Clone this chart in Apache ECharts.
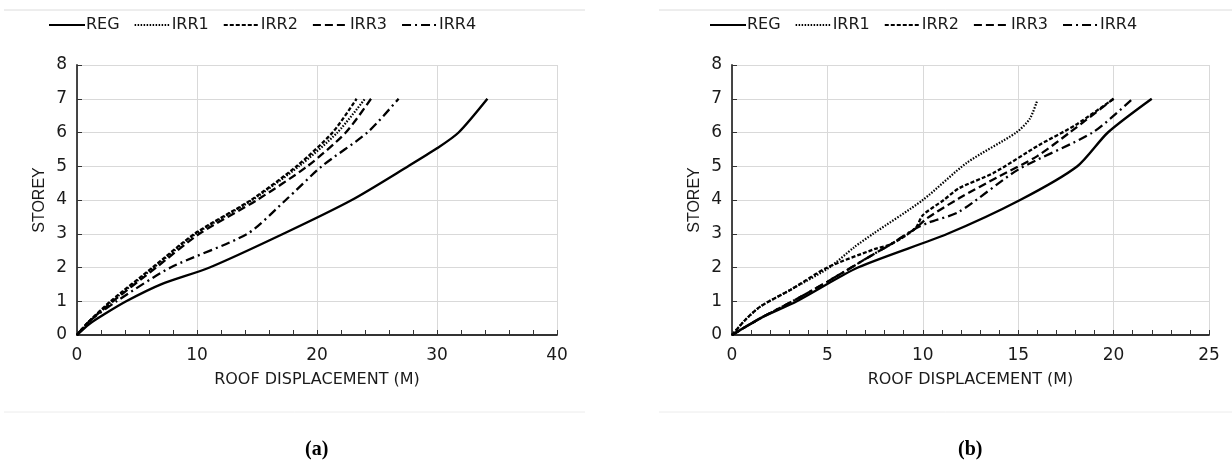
<!DOCTYPE html>
<html><head><meta charset="utf-8">
<script src="https://cdn.jsdelivr.net/npm/echarts@6/dist/echarts.min.js"></script>
<style>html,body{margin:0;padding:0;background:#fff}#c{width:1232px;height:467px}</style>
</head><body><div id="c"></div>
<script>
// ---- data: [roof displacement, storey] ----
const seriesNames = ['REG', 'IRR1', 'IRR2', 'IRR3', 'IRR4'];
const yTicks = [0, 1, 2, 3, 4, 5, 6, 7, 8];
const captions = ['(a)', '(b)'];

// chart (a)
const regA  = [[0,0],[1,0.32],[2.2,0.6],[4.1,1],[7,1.5],[11.05,2],[17.2,3],[22.9,4],[27.6,5],[30,5.53],[31.8,6],[34.2,7]];
const irr1A = [[0,0],[1,0.4],[2.9,1],[6.4,2],[9.9,3],[14.6,4],[18.5,5],[21.7,6],[24,7]];
const irr2A = [[0,0],[1,0.4],[2.8,1],[6.3,2],[9.8,3],[14.5,4],[18.3,5],[21.3,6],[23.3,7]];
const irr3A = [[0,0],[1,0.4],[3,1],[6.6,2],[10.2,3],[15,4],[19.2,5],[22.4,6],[24.5,7]];
const irr4A = [[0,0],[1,0.4],[3.3,1],[7.8,2],[14.2,3],[17.4,4],[20.4,5],[24.2,6],[26.8,7]];

// chart (b)
const regB  = [[0,0],[1.5,0.5],[3.4,1],[6.6,2],[11.3,3],[15.1,4],[18.1,5],[19.7,6],[22,7]];
const irr1B = [[0,0],[0.7,0.45],[1.5,0.85],[3.1,1.35],[5.1,2],[6.4,2.6],[7.4,3],[10,4],[12.3,5.1],[14.9,6],[15.6,6.4],[16,6.95]];
const irr2B = [[0,0],[0.7,0.45],[1.5,0.85],[3.1,1.35],[5,2],[7.5,2.55],[8.3,2.68],[9.6,3.15],[10,3.55],[11.1,4],[11.9,4.35],[13.7,4.8],[16.1,5.63],[18,6.22],[20,7]];
const irr3B = [[0,0],[1.5,0.5],[3.5,1.1],[5,1.58],[7.5,2.42],[8.3,2.68],[9.6,3.15],[10.2,3.45],[11.9,4.05],[14,4.7],[16,5.3],[17.7,6],[20,7]];
const irr4B = [[0,0],[1.5,0.5],[3.5,1.1],[5,1.58],[7.5,2.42],[8.3,2.68],[9.6,3.15],[10.3,3.33],[11.9,3.65],[15,4.9],[18.9,6],[21,7]];

const dataA = [regA, irr1A, irr2A, irr3A, irr4A];
const dataB = [regB, irr1B, irr2B, irr3B, irr4B];

// ---- styles ----
const lineTypes = ['solid', [1.5, 1.5], [4, 2], [8, 4], [9, 4, 2, 4]];
const lineWidths = [2.4, 2.2, 2.3, 2.3, 2.3];
const FONT = 'DejaVu Sans';
const TXT = '#1a1a1a';
const AX = '#333333';

function makeSeries(data, gi) {
  return data.map((d, i) => ({
    name: seriesNames[i], type: 'line', xAxisIndex: gi, yAxisIndex: gi,
    data: d, showSymbol: false, symbol: 'none', smooth: 0.25,
    lineStyle: { color: '#000', width: lineWidths[i], type: lineTypes[i] },
    itemStyle: { color: '#000' }, emphasis: { disabled: true }, z: 5 - i
  }));
}

function xAxis(gi, max, interval) {
  return {
    type: 'value', gridIndex: gi, min: 0, max: max, interval: interval,
    name: 'ROOF DISPLACEMENT (M)', nameLocation: 'middle', nameGap: 37,
    nameTextStyle: { fontFamily: FONT, fontSize: 16, color: TXT },
    axisLine: { show: true, lineStyle: { color: AX, width: 1.8 } },
    axisTick: { show: true, inside: true, length: 5, lineStyle: { color: AX } },
    minorTick: { show: true, splitNumber: 5, length: 5, lineStyle: { color: AX } },
    axisLabel: { fontFamily: FONT, fontSize: 17, color: TXT, margin: 12 },
    splitLine: { show: true, lineStyle: { color: '#d9d9d9', width: 1 } }
  };
}
function yAxis(gi) {
  return {
    type: 'value', gridIndex: gi, min: yTicks[0], max: yTicks[yTicks.length - 1], interval: 1,
    name: 'STOREY', nameLocation: 'middle', nameGap: 29, nameRotate: 90,
    nameTextStyle: { fontFamily: 'Liberation Sans', fontSize: 16, color: TXT },
    axisLine: { show: true, lineStyle: { color: AX, width: 1.8 } },
    axisTick: { show: true, inside: true, length: 5, lineStyle: { color: AX } },
    axisLabel: { fontFamily: FONT, fontSize: 17, color: TXT, margin: 10 },
    splitLine: { show: true, lineStyle: { color: '#d9d9d9', width: 1 } }
  };
}
function legend(left) {
  return {
    left: left, top: 12, data: seriesNames, itemWidth: 36, itemHeight: 12, itemGap: 14,
    selectedMode: false,
    itemStyle: { opacity: 0, color: 'rgba(0,0,0,0)', borderWidth: 0 },
    textStyle: { fontFamily: FONT, fontSize: 16, color: TXT, padding: [0, 0, 0, -4] }
  };
}

const chart = echarts.init(document.getElementById('c'), null, { renderer: 'canvas' });
chart.setOption({
  animation: false,
  backgroundColor: '#fff',
  legend: [legend(43), legend(704)],
  grid: [
    { left: 77, top: 65, width: 480, height: 270 },
    { left: 732, top: 65, width: 477, height: 270 }
  ],
  xAxis: [xAxis(0, 40, 10), xAxis(1, 25, 5)],
  yAxis: [yAxis(0), yAxis(1)],
  series: makeSeries(dataA, 0).concat(makeSeries(dataB, 1)),
  graphic: [
    { type: 'line', shape: { x1: 4, y1: 10, x2: 585, y2: 10 }, style: { stroke: '#dcdcdc', lineWidth: 1 } },
    { type: 'line', shape: { x1: 659, y1: 10, x2: 1232, y2: 10 }, style: { stroke: '#dcdcdc', lineWidth: 1 } },
    { type: 'line', shape: { x1: 4, y1: 412, x2: 585, y2: 412 }, style: { stroke: '#ececec', lineWidth: 1 } },
    { type: 'line', shape: { x1: 659, y1: 412, x2: 1232, y2: 412 }, style: { stroke: '#ececec', lineWidth: 1 } },
    { type: 'text', left: 305, top: 440, style: { text: captions[0], font: 'bold 20px "Liberation Serif"', fill: '#000' } },
    { type: 'text', left: 958, top: 440, style: { text: captions[1], font: 'bold 20px "Liberation Serif"', fill: '#000' } }
  ]
});
</script>
</body></html>
